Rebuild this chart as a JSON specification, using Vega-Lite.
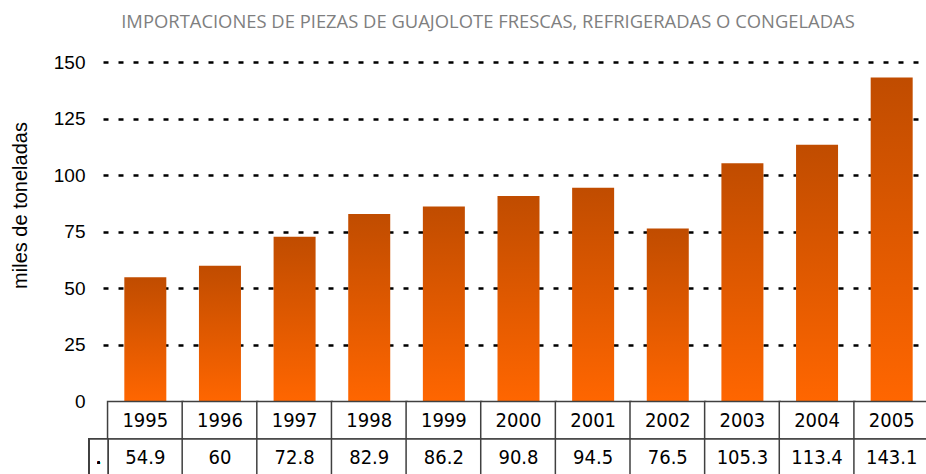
{
  "$schema": "https://vega.github.io/schema/vega-lite/v6.json",
  "width": 831,
  "height": 412,
  "autosize": {"type": "none"},
  "padding": {"left": 103, "top": 62, "right": -8, "bottom": 0},
  "background": "white",
  "title": {
    "text": "IMPORTACIONES DE PIEZAS DE GUAJOLOTE FRESCAS, REFRIGERADAS O CONGELADAS",
    "font": "Open Sans",
    "fontSize": 18.4,
    "fontWeight": "normal",
    "color": "#7f7f7f",
    "anchor": "middle",
    "frame": "bounds",
    "offset": 22,
    "dx": 16
  },
  "config": {"view": {"stroke": null}},
  "data": {
    "values": [
      {"year": 1995, "value": 54.9},
      {"year": 1996, "value": 60},
      {"year": 1997, "value": 72.8},
      {"year": 1998, "value": 82.9},
      {"year": 1999, "value": 86.2},
      {"year": 2000, "value": 90.8},
      {"year": 2001, "value": 94.5},
      {"year": 2002, "value": 76.5},
      {"year": 2003, "value": 105.3},
      {"year": 2004, "value": 113.4},
      {"year": 2005, "value": 143.1}
    ]
  },
  "encoding": {
    "x": {
      "field": "year",
      "type": "quantitative",
      "scale": {"domain": [1994.5, 2005.5], "nice": false, "zero": false},
      "axis": null
    }
  },
  "layer": [
    {
      "mark": {
        "type": "bar",
        "width": 42,
        "color": {
          "gradient": "linear",
          "x1": 0, "y1": 0, "x2": 0, "y2": 1,
          "stops": [
            {"offset": 0, "color": "#c04c00"},
            {"offset": 1, "color": "#ff6600"}
          ]
        }
      },
      "encoding": {
        "y": {
          "field": "value",
          "type": "quantitative",
          "scale": {"domain": [-32, 150], "nice": false, "zero": false},
          "axis": {
            "values": [0, 25, 50, 75, 100, 125, 150],
            "domain": false,
            "ticks": false,
            "tickSize": 0,
            "labelPadding": 18,
            "labelFont": "Liberation Sans",
            "labelFontSize": 19,
            "labelColor": "#000000",
            "grid": true,
            "gridColor": "#000000",
            "gridDash": [5, 10],
            "gridWidth": 2.5,
            "gridOpacity": {"condition": {"test": "datum.value === 0", "value": 0}, "value": 1},
            "title": "miles de toneladas",
            "titleFont": "Liberation Sans",
            "titleFontSize": 20,
            "titleFontWeight": "normal",
            "titleColor": "#000000",
            "titleX": -83,
            "titleY": 143,
            "titleAngle": -90,
            "titleAlign": "center",
            "titleBaseline": "middle"
          }
        }
      }
    },
    {
      "mark": {"type": "bar", "width": 75.55, "fill": "white", "stroke": "#404040", "strokeWidth": 1.5},
      "encoding": {"y": {"datum": 0}, "y2": {"datum": -16.5}}
    },
    {
      "mark": {"type": "bar", "width": 75.55, "fill": "white", "stroke": "#404040", "strokeWidth": 1.5},
      "encoding": {"y": {"datum": -16.5}, "y2": {"datum": -45}}
    },
    {
      "mark": {"type": "rect", "fill": "white", "stroke": "#404040", "strokeWidth": 1.5},
      "encoding": {
        "x": {"datum": 1994.2485},
        "x2": {"datum": 1994.5},
        "y": {"datum": -16.5},
        "y2": {"datum": -45}
      }
    },
    {
      "mark": {"type": "text", "font": "DejaVu Sans Condensed, DejaVu Sans", "fontSize": 20, "align": "center", "baseline": "middle", "color": "#000000"},
      "encoding": {
        "x": {"datum": 1994.375},
        "y": {"datum": -25},
        "text": {"value": "."}
      }
    },
    {
      "mark": {"type": "text", "font": "DejaVu Sans Condensed, DejaVu Sans", "fontSize": 20, "align": "center", "baseline": "middle", "color": "#000000"},
      "encoding": {
        "y": {"datum": -8.5},
        "text": {"field": "year", "type": "nominal"}
      }
    },
    {
      "mark": {"type": "text", "font": "DejaVu Sans Condensed, DejaVu Sans", "fontSize": 20, "align": "center", "baseline": "middle", "color": "#000000"},
      "encoding": {
        "y": {"datum": -25},
        "text": {"field": "value", "type": "nominal"}
      }
    }
  ]
}
